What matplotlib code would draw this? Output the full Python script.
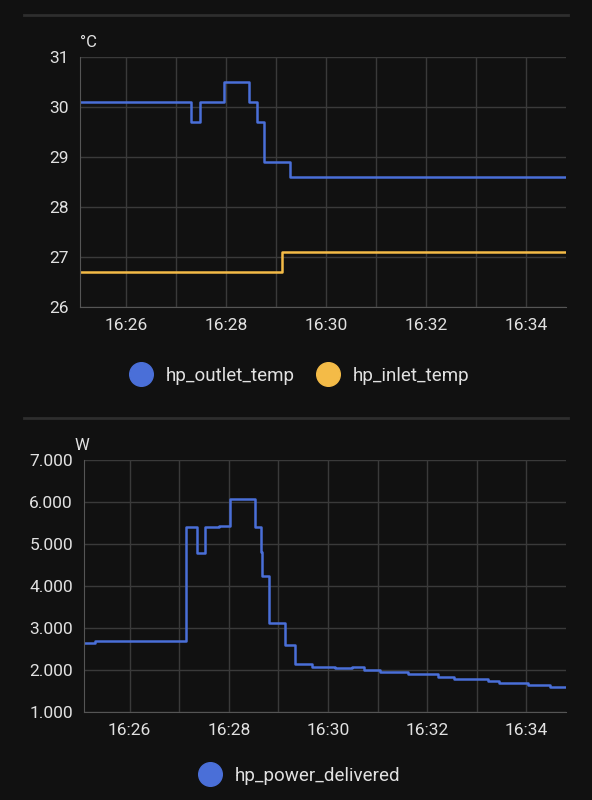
import matplotlib.pyplot as plt
from matplotlib.ticker import FuncFormatter, FixedLocator
from matplotlib.lines import Line2D

# times as minutes after 16:00
out_t = [25.0, 27.3, 27.48, 27.96, 28.46, 28.62, 28.76, 29.28, 35.0]
out_v = [30.1, 29.7, 30.1, 30.5, 30.1, 29.7, 28.9, 28.6, 28.6]
in_t = [25.0, 29.12, 35.0]
in_v = [26.7, 27.1, 27.1]

pw_t = [25.0, 25.3, 25.9, 26.4, 26.8, 27.14, 27.36, 27.52, 27.8, 28.02, 28.52, 28.64,
        28.66, 28.82, 29.14, 29.34, 29.68, 30.14, 30.48, 30.72, 31.04, 31.62, 32.22,
        32.54, 33.22, 33.44, 34.04, 34.48, 35.0]
pw_v = [2650, 2680, 2700, 2680, 2700, 5400, 4790, 5400, 5430, 6080, 5400, 4800,
        4250, 3120, 2600, 2150, 2080, 2050, 2070, 2000, 1950, 1900, 1840,
        1790, 1750, 1690, 1650, 1600, 1600]

BG = '#111111'
BLUE = '#4a6fd8'
YEL = '#f4bb47'
GRID = '#3a3a3a'
TXT = '#e1e1e1'

plt.rcParams['font.family'] = ['Roboto', 'DejaVu Sans']
fig = plt.figure(figsize=(5.92, 8.0), dpi=100, facecolor=BG)
W, H = 592, 800

def mkax(l, t, r, b):
    return fig.add_axes([l / W, 1 - b / H, (r - l) / W, (b - t) / H], facecolor=BG)

def style(ax):
    ax.set_xlim(25.08, 34.8)
    ax.xaxis.set_major_locator(FixedLocator([26, 28, 30, 32, 34]))
    ax.xaxis.set_minor_locator(FixedLocator([25, 27, 29, 31, 33]))
    ax.xaxis.set_major_formatter(FuncFormatter(lambda v, p: '16:%02d' % round(v)))
    ax.grid(True, which='both', color=GRID, lw=1)
    for s in ax.spines.values():
        s.set_visible(False)
    ax.spines['left'].set_visible(True)
    ax.spines['left'].set_color('#555555')
    ax.spines['bottom'].set_visible(True)
    ax.spines['bottom'].set_color('#555555')
    ax.tick_params(colors=TXT, labelsize=12.5, length=0, pad=8)
    ax.tick_params(which='minor', length=0)

ax1 = mkax(80, 57, 566, 307)
ax1.step(out_t, out_v, where='post', color=BLUE, lw=1.8)
ax1.step(in_t, in_v, where='post', color=YEL, lw=1.8)
ax1.set_ylim(26, 31)
style(ax1)
ax1.text(0, 1.04, '°C', transform=ax1.transAxes, color=TXT, fontsize=12)

ax2 = mkax(84, 460, 566, 712)
ax2.step(pw_t, pw_v, where='post', color=BLUE, lw=1.8)
ax2.set_ylim(1000, 7000)
ax2.set_yticks(range(1000, 8000, 1000))
ax2.yaxis.set_major_formatter(FuncFormatter(lambda v, p: f'{int(v):,}'.replace(',', '.')))
style(ax2)
ax2.text(-0.02, 1.04, 'W', transform=ax2.transAxes, color=TXT, fontsize=12)

for y in (15, 418):
    fig.add_artist(Line2D([24 / W, 568 / W], [1 - y / H] * 2, color='#2e2e2e', lw=2))

def handle(c):
    return Line2D([], [], marker='o', ls='', markersize=17, markerfacecolor=c, markeredgecolor=c)

fig.legend([handle(BLUE), handle(YEL)], ['hp_outlet_temp', 'hp_inlet_temp'],
           loc='center', bbox_to_anchor=(296 / W, 1 - 376 / H), ncol=2, frameon=False,
           labelcolor=TXT, fontsize=13.5, handletextpad=0.3, columnspacing=0.8)
fig.legend([handle(BLUE)], ['hp_power_delivered'],
           loc='center', bbox_to_anchor=(296 / W, 1 - 776 / H), frameon=False,
           labelcolor=TXT, fontsize=13.5, handletextpad=0.3)

fig.savefig('out.png', dpi=100, facecolor=BG)
